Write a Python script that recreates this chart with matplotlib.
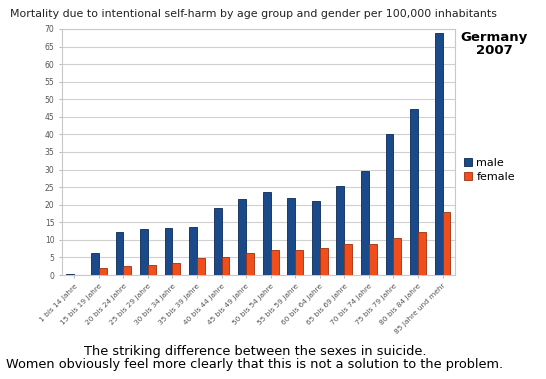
import numpy as np
import matplotlib.pyplot as plt

age_groups = ["1 bis 14 Jahre", "15 bis 19 Jahre", "20 bis 24 Jahre", "25 bis 29 Jahre",
              "30 bis 34 Jahre", "35 bis 39 Jahre", "40 bis 44 Jahre", "45 bis 49 Jahre",
              "50 bis 54 Jahre", "55 bis 59 Jahre", "60 bis 64 Jahre", "65 bis 69 Jahre",
              "70 bis 74 Jahre", "75 bis 79 Jahre", "80 bis 84 Jahre", "85 Jahre und mehr"]
male = [0.4, 6.2, 12.1, 13.2, 13.3, 13.6, 19.2, 21.5, 23.7, 22.0, 21.0, 25.3, 29.7, 40.1, 47.3, 68.9]
female = [0.1, 2.1, 2.6, 2.8, 3.3, 4.9, 5.1, 6.4, 7.1, 7.1, 7.8, 8.7, 8.9, 10.6, 12.1, 17.9]

male_color = '#1a4a8a'
female_color = '#f04f1c'

fig = plt.figure(figsize=(5.46, 3.79), dpi=100)
ax = fig.add_axes([0.1136, 0.2744, 0.7194, 0.6491])

x = np.arange(len(age_groups))
w = 0.32
ax.bar(x - w / 2, male, w, color=male_color, edgecolor='#0c2a55', linewidth=0.6, label='male', zorder=3)
ax.bar(x + w / 2, female, w, color=female_color, edgecolor='#9a3010', linewidth=0.6, label='female', zorder=3)

ax.set_xlim(-0.5, len(age_groups) - 0.5)
ax.set_ylim(0, 70)
ax.set_yticks(range(0, 71, 5))
ax.yaxis.grid(True, color='#d0d0d0', linewidth=0.8, zorder=0)
ax.set_xticks(x)
ax.set_xticklabels(age_groups, rotation=45, ha='right', rotation_mode='anchor', fontsize=5.3, color='#555555')
ax.tick_params(axis='y', labelsize=5.5, labelcolor='#555555', length=2, color='#bbbbbb')
ax.tick_params(axis='x', length=2, color='#bbbbbb')
for s in ax.spines.values():
    s.set_color('#c8c8c8')
    s.set_linewidth(0.8)

fig.text(0.018, 0.963, "Mortality due to intentional self-harm by age group and gender per 100,000 inhabitants",
         fontsize=7.9, color='#222222', va='center', ha='left')
fig.text(0.905, 0.885, "Germany\n2007", fontsize=9.5, fontweight='bold', ha='center', va='center',
         linespacing=1.0)

fig.legend(loc='center left', bbox_to_anchor=(0.84, 0.551), frameon=False, fontsize=8,
           handlelength=0.7, handleheight=0.7, handletextpad=0.4, labelspacing=0.35, borderpad=0)

fig.text(0.467, 0.056, "The striking difference between the sexes in suicide.\n"
         "Women obviously feel more clearly that this is not a solution to the problem.",
         fontsize=9.3, ha='center', va='center', linespacing=0.95)

plt.savefig('out.png', dpi=100)
